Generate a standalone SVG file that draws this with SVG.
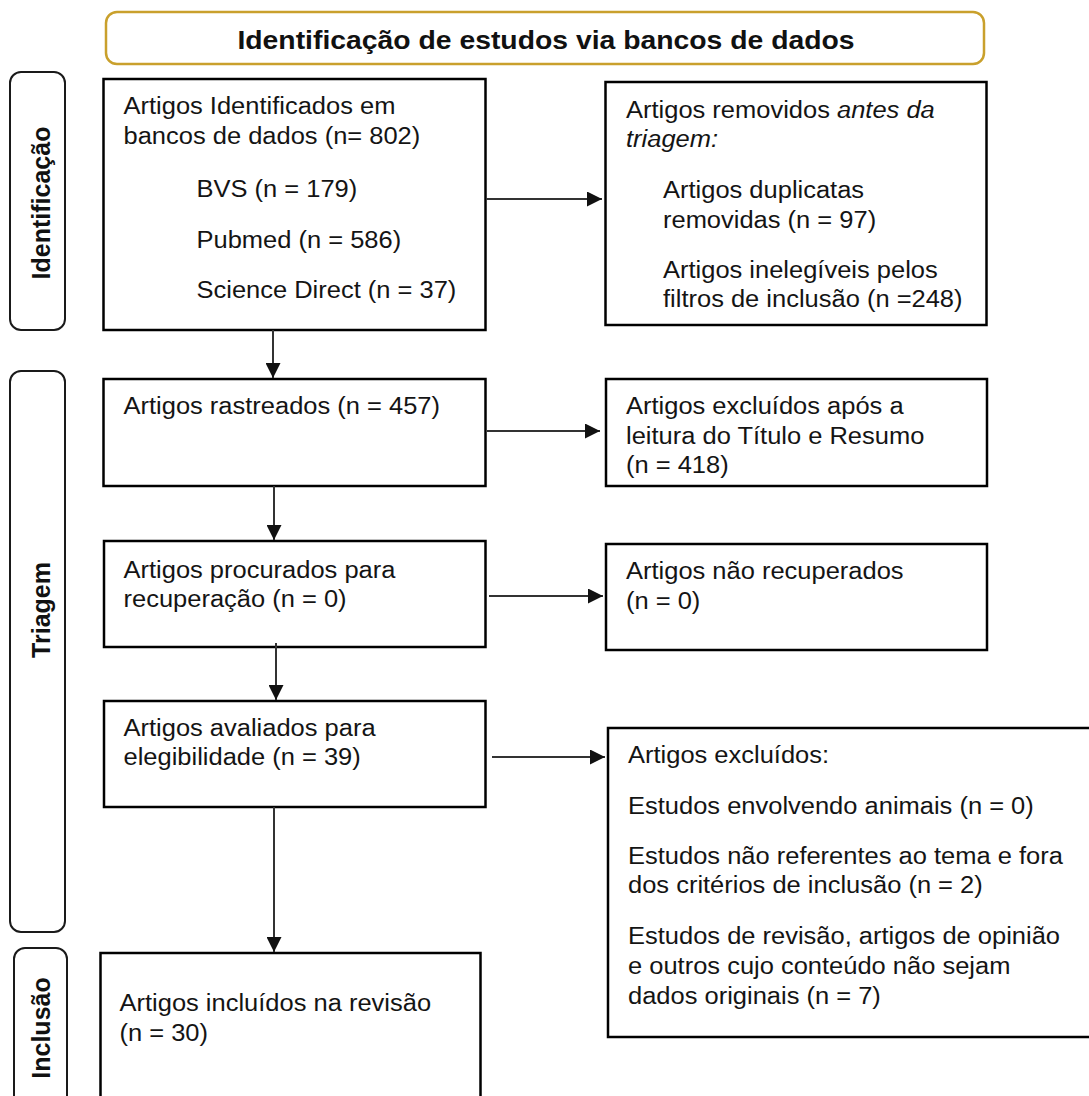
<svg xmlns="http://www.w3.org/2000/svg" width="1089" height="1096" viewBox="0 0 1089 1096">
<style>
.box{fill:#fff;stroke:#000;stroke-width:2.5}
.lbl{fill:#fff;stroke:#1a1a1a;stroke-width:2}
.hdr{fill:#fff;stroke:#C9A02C;stroke-width:2.5}
.t{font-family:"Liberation Sans",Arial,sans-serif;font-size:23.5px;fill:#141414}
.tb{font-family:"Liberation Sans",Arial,sans-serif;font-weight:bold;fill:#111}
.conn line{stroke:#333;stroke-width:2;fill:none}
</style>
<defs>
<marker id="ah" viewBox="0 0 10 10" refX="10" refY="5" markerWidth="16" markerHeight="15" markerUnits="userSpaceOnUse" orient="auto">
<path d="M0,0 L10,5 L0,10 z" fill="#111"/>
</marker>
</defs>
<rect width="1089" height="1096" fill="#fff"/>

<g id="header">
<rect class="hdr" x="106" y="12" width="878" height="52" rx="11"/>
<g transform="translate(546,0) scale(1.09,1)"><text class="tb" x="0" y="49" font-size="26" text-anchor="middle">Identificação de estudos via bancos de dados</text></g>
</g>

<g id="lbl-identificacao">
<rect class="lbl" x="10" y="72" width="55" height="258" rx="11"/>
<text class="tb" font-size="25" text-anchor="middle" transform="translate(50,203) rotate(-90)">Identificação</text>
</g>
<g id="lbl-triagem">
<rect class="lbl" x="10" y="371" width="55" height="561" rx="11"/>
<text class="tb" font-size="25" text-anchor="middle" transform="translate(50,610) rotate(-90)">Triagem</text>
</g>
<g id="lbl-inclusao">
<rect class="lbl" x="14" y="948" width="53" height="170" rx="11"/>
<text class="tb" font-size="25" text-anchor="middle" transform="translate(50,1028) rotate(-90)">Inclusão</text>
</g>

<g id="n-identificados">
<rect class="box" x="103.5" y="79" width="382" height="251"/>
<g transform="translate(123.5,0) scale(1.085,1)"><text class="t">
<tspan x="0" y="114">Artigos Identificados em</tspan>
<tspan x="0" y="144">bancos de dados (n= 802)</tspan>
<tspan x="67.3" y="197">BVS (n = 179)</tspan>
<tspan x="67.3" y="248">Pubmed (n = 586)</tspan>
<tspan x="67.3" y="298">Science Direct (n = 37)</tspan>
</text></g>
</g>

<g id="n-removidos">
<rect class="box" x="605.5" y="82" width="381" height="243"/>
<g transform="translate(626,0) scale(1.085,1)"><text class="t">
<tspan x="0" y="118">Artigos removidos <tspan font-style="italic">antes da</tspan></tspan>
<tspan x="0" y="147" font-style="italic">triagem:</tspan>
<tspan x="34.1" y="198">Artigos duplicatas</tspan>
<tspan x="34.1" y="228">removidas (n = 97)</tspan>
<tspan x="34.1" y="278">Artigos inelegíveis pelos</tspan>
<tspan x="34.1" y="307">filtros de inclusão (n =248)</tspan>
</text></g>
</g>

<g id="n-rastreados">
<rect class="box" x="103.5" y="379" width="382" height="107"/>
<g transform="translate(123.5,0) scale(1.085,1)"><text class="t"><tspan x="0" y="414">Artigos rastreados (n = 457)</tspan></text></g>
</g>

<g id="n-excluidos-titulo">
<rect class="box" x="606" y="379" width="381" height="107"/>
<g transform="translate(626,0) scale(1.085,1)"><text class="t">
<tspan x="0" y="414">Artigos excluídos após a</tspan>
<tspan x="0" y="444">leitura do Título e Resumo</tspan>
<tspan x="0" y="473">(n = 418)</tspan>
</text></g>
</g>

<g id="n-procurados">
<rect class="box" x="104" y="541" width="381.5" height="106"/>
<g transform="translate(123.5,0) scale(1.085,1)"><text class="t">
<tspan x="0" y="578">Artigos procurados para</tspan>
<tspan x="0" y="607">recuperação (n = 0)</tspan>
</text></g>
</g>

<g id="n-nao-recuperados">
<rect class="box" x="606" y="544" width="381" height="106"/>
<g transform="translate(626,0) scale(1.085,1)"><text class="t">
<tspan x="0" y="579">Artigos não recuperados</tspan>
<tspan x="0" y="609">(n = 0)</tspan>
</text></g>
</g>

<g id="n-avaliados">
<rect class="box" x="104" y="701" width="381.5" height="106"/>
<g transform="translate(123.5,0) scale(1.085,1)"><text class="t">
<tspan x="0" y="736">Artigos avaliados para</tspan>
<tspan x="0" y="765">elegibilidade (n = 39)</tspan>
</text></g>
</g>

<g id="n-excluidos">
<rect class="box" x="608" y="728" width="500" height="309"/>
<g transform="translate(628,0) scale(1.085,1)"><text class="t">
<tspan x="0" y="763">Artigos excluídos:</tspan>
<tspan x="0" y="814">Estudos envolvendo animais (n = 0)</tspan>
<tspan x="0" y="864">Estudos não referentes ao tema e fora</tspan>
<tspan x="0" y="893">dos critérios de inclusão (n = 2)</tspan>
<tspan x="0" y="944">Estudos de revisão, artigos de opinião</tspan>
<tspan x="0" y="974">e outros cujo conteúdo não sejam</tspan>
<tspan x="0" y="1004">dados originais (n = 7)</tspan>
</text></g>
</g>

<g id="n-incluidos">
<rect class="box" x="100.5" y="953" width="380" height="160"/>
<g transform="translate(119.5,0) scale(1.085,1)"><text class="t">
<tspan x="0" y="1011">Artigos incluídos na revisão</tspan>
<tspan x="0" y="1041">(n = 30)</tspan>
</text></g>
</g>

<g id="connectors" class="conn">
<line x1="486" y1="199" x2="602" y2="199" marker-end="url(#ah)"/>
<line x1="273" y1="330" x2="273" y2="378" marker-end="url(#ah)"/>
<line x1="487" y1="431" x2="600" y2="431" marker-end="url(#ah)"/>
<line x1="274" y1="486" x2="274" y2="540" marker-end="url(#ah)"/>
<line x1="489" y1="596" x2="603" y2="596" marker-end="url(#ah)"/>
<line x1="276" y1="643" x2="276" y2="700" marker-end="url(#ah)"/>
<line x1="492" y1="757" x2="605" y2="757" marker-end="url(#ah)"/>
<line x1="274" y1="807" x2="274" y2="952" marker-end="url(#ah)"/>
</g>
</svg>
